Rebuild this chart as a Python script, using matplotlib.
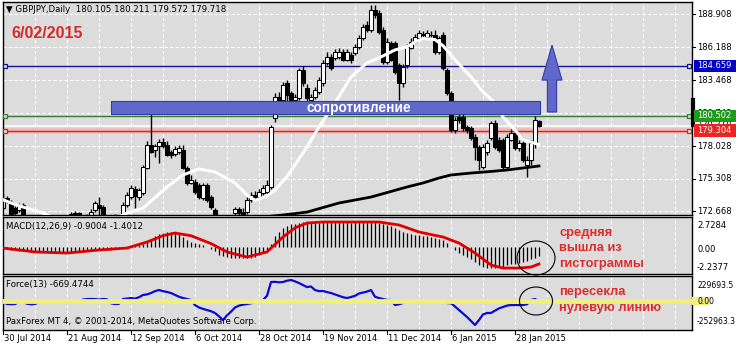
import numpy as np
import matplotlib
matplotlib.use('Agg')
import matplotlib.pyplot as plt
from matplotlib.patches import Rectangle, Ellipse, Polygon

plt.rcParams['font.family'] = ['DejaVu Sans']

############################################################################################
# GBPJPY daily bars, 30 Jul 2014 -> 6 Feb 2015
opens = [
    172.91, 173.74, 173.41, 172.90, 172.75, 173.16, 172.00, 171.60, 171.30, 171.80,
    171.40, 170.90, 171.20, 170.70, 170.90, 171.30, 171.70, 172.20, 172.40, 172.50,
    172.10, 171.90, 172.30, 172.75, 173.16, 173.00, 172.20, 171.90, 172.10, 172.00,
    172.20, 173.16, 173.82, 174.50, 173.82, 174.15, 176.21, 178.11, 177.70, 178.03,
    178.36, 178.11, 177.53, 177.37, 177.53, 177.70, 176.21, 174.98, 175.06, 174.81,
    173.74, 174.81, 173.82, 172.75, 171.80, 171.20, 170.60, 170.00, 172.50, 172.83,
    172.60, 172.58, 173.57, 173.99, 173.82, 174.15, 174.23, 174.65, 180.30, 182.07,
    181.83, 183.23, 182.40, 181.83, 181.99, 184.30, 182.82, 181.83, 182.07, 182.49,
    183.23, 184.88, 185.37, 185.29, 185.37, 185.79, 185.13, 185.54, 185.70, 186.20,
    186.94, 188.01, 187.60, 189.25, 189.00, 187.60, 184.96, 186.53, 186.50, 184.70,
    183.23, 184.71, 186.12, 186.61, 186.94, 187.19, 187.02, 187.20, 187.19, 185.79,
    187.19, 184.30, 182.40, 179.35, 180.42, 180.42, 179.60, 179.52, 178.77, 177.95,
    176.30, 177.53, 178.69, 179.93, 178.53, 178.53, 176.30, 178.53, 179.10, 177.87,
    178.28, 176.46, 176.87, 178.28, 180.105]
highs = [
    174.15, 173.90, 173.60, 173.10, 173.30, 173.30, 172.20, 171.90, 172.00, 172.00,
    171.60, 171.40, 171.30, 171.10, 171.50, 171.90, 172.30, 172.60, 172.70, 172.60,
    172.20, 172.40, 172.80, 173.50, 173.82, 173.20, 172.30, 172.30, 172.40, 172.30,
    173.40, 174.20, 174.80, 174.70, 174.60, 176.50, 178.40, 180.75, 178.20, 178.60,
    178.70, 178.40, 177.70, 178.00, 178.10, 178.10, 176.40, 175.60, 175.30, 175.00,
    175.00, 175.00, 174.00, 172.90, 172.00, 171.40, 170.90, 172.00, 173.00, 173.00,
    172.90, 173.80, 174.20, 174.30, 174.50, 174.80, 175.20, 179.80, 182.40, 182.50,
    183.30, 183.50, 182.60, 182.30, 184.50, 184.60, 183.10, 182.30, 182.90, 183.70,
    185.10, 185.80, 185.60, 186.00, 186.10, 186.00, 186.00, 185.80, 186.40, 187.20,
    188.10, 188.30, 189.66, 189.66, 189.20, 187.80, 186.90, 186.70, 186.70, 184.90,
    184.80, 186.40, 186.90, 187.30, 187.60, 187.50, 187.60, 187.50, 187.60, 187.10,
    187.40, 184.50, 182.60, 180.40, 181.00, 180.70, 179.80, 179.70, 179.00, 178.10,
    178.20, 178.50, 180.10, 180.20, 178.80, 178.70, 179.00, 179.40, 179.30, 178.50,
    178.50, 177.20, 178.50, 180.50, 180.211]
lows = [
    172.80, 173.30, 172.00, 172.30, 172.60, 171.80, 171.40, 171.10, 171.20, 171.20,
    170.60, 170.70, 170.40, 170.50, 170.80, 171.20, 171.50, 172.00, 172.20, 171.90,
    171.60, 171.80, 172.10, 172.60, 172.30, 172.00, 171.70, 171.80, 171.80, 171.80,
    172.00, 173.00, 173.70, 172.90, 173.60, 174.00, 176.10, 177.45, 177.12, 176.63,
    177.90, 177.20, 177.00, 177.20, 177.40, 176.10, 174.80, 174.90, 174.10, 173.70,
    173.60, 173.40, 172.80, 171.50, 171.00, 170.40, 169.50, 169.90, 172.30, 172.20,
    172.10, 172.40, 173.40, 173.60, 173.70, 174.00, 174.10, 174.50, 180.00, 180.90,
    181.00, 181.50, 180.80, 180.70, 181.80, 183.00, 181.50, 181.00, 181.90, 182.30,
    183.00, 184.70, 184.30, 185.10, 185.20, 185.00, 185.00, 184.90, 185.50, 186.00,
    186.80, 187.40, 187.40, 188.60, 187.30, 184.80, 184.80, 185.00, 184.00, 181.83,
    182.90, 184.50, 186.00, 186.50, 186.80, 187.00, 186.90, 187.00, 185.60, 185.60,
    184.30, 182.20, 179.20, 179.10, 179.90, 179.30, 179.10, 178.50, 176.87, 176.05,
    176.10, 177.30, 178.50, 177.80, 177.50, 176.10, 176.10, 178.40, 177.70, 177.60,
    176.70, 175.47, 176.50, 177.90, 179.572]
closes = [
    173.57, 173.41, 172.20, 172.50, 173.08, 172.00, 171.60, 171.30, 171.80, 171.40,
    170.90, 171.20, 170.70, 170.90, 171.30, 171.70, 172.20, 172.40, 172.50, 172.10,
    171.90, 172.20, 172.60, 173.33, 172.91, 172.20, 171.90, 172.10, 172.00, 172.20,
    173.16, 173.99, 174.56, 173.90, 174.40, 176.30, 178.11, 177.53, 178.03, 178.36,
    178.03, 177.29, 177.29, 177.78, 177.87, 176.21, 174.98, 175.22, 174.23, 173.82,
    174.81, 173.57, 173.00, 171.80, 171.20, 170.60, 170.00, 171.60, 172.83, 172.50,
    172.30, 173.57, 173.99, 173.74, 174.23, 174.56, 174.81, 179.60, 182.07, 181.83,
    183.06, 182.24, 181.83, 182.07, 184.30, 183.23, 181.99, 182.07, 182.65, 183.48,
    184.88, 185.37, 184.47, 185.79, 185.79, 185.13, 185.79, 185.13, 186.20, 186.94,
    187.85, 187.60, 189.25, 188.84, 187.44, 184.96, 186.61, 185.13, 184.14, 183.23,
    184.55, 186.20, 186.61, 187.02, 187.35, 187.25, 187.35, 187.15, 185.79, 186.94,
    184.47, 182.40, 179.35, 180.18, 180.18, 179.52, 179.35, 178.69, 177.95, 176.87,
    177.95, 178.28, 179.93, 177.95, 177.70, 176.30, 178.77, 179.10, 177.87, 178.28,
    176.87, 176.87, 178.28, 180.15, 179.718]

# moving averages on the price chart (bar index, price) read at a few points
white_ma_idx = [0, 2, 5, 10, 14, 20, 26, 31, 35, 41, 45, 49, 53, 58, 61, 63, 66, 68, 71, 76,
                79, 83, 87, 91, 94, 98, 101, 103, 105, 108, 110, 113, 117, 120, 123, 125, 128, 130, 134]
white_ma_val = [173.60, 173.33, 173.00, 172.50, 171.90, 171.60, 171.70, 172.50, 172.90, 174.65,
                175.64, 176.13, 175.89, 174.98, 173.99, 173.55, 173.90, 174.40, 175.50, 177.95,
                179.60, 181.58, 183.72, 184.88, 185.29, 185.95, 186.20, 186.60, 186.90, 186.80,
                186.30, 185.13, 183.72, 182.49, 181.58, 180.42, 179.35, 178.53, 178.15]
black_ma_idx = [50, 60, 70, 76, 84, 92, 101, 105, 109, 112, 117, 122, 126, 134]
black_ma_val = [171.70, 172.00, 172.34, 172.58, 173.33, 173.82, 174.65, 174.98, 175.39,
                175.64, 175.80, 175.93, 176.05, 176.38]

# horizontal levels drawn on the chart
level_blue, level_green, level_red, bid = 184.659, 180.502, 179.304, 179.718
grid_prices = [188.908, 186.188, 183.468, 180.748, 178.028, 175.308, 172.668]
grid_labels = ['188.908', '186.188', '183.468', '180.748', '178.028', '175.308', '172.668']

# MACD(12,26,9): histogram (main line) per bar and signal line
macd_main = [
    -0.15, -0.20, -0.25, -0.30, -0.35, -0.40, -0.45, -0.50, -0.50, -0.55,
    -0.55, -0.55, -0.55, -0.55, -0.55, -0.50, -0.50, -0.50, -0.45, -0.45,
    -0.45, -0.40, -0.35, -0.30, -0.30, -0.30, -0.30, -0.25, -0.20, -0.15,
    -0.10, 0.00, 0.10, 0.15, 0.20, 0.35, 0.60, 0.95, 1.20, 1.40,
    1.55, 1.60, 1.60, 1.55, 1.40, 1.15, 0.80, 0.60, 0.50, 0.35,
    0.25, 0.05, -0.20, -0.45, -0.80, -0.95, -1.05, -1.15, -1.20, -1.20,
    -1.20, -1.15, -1.10, -1.00, -0.85, -0.60, -0.35, 0.40, 1.20, 1.70,
    2.10, 2.35, 2.50, 2.55, 2.65, 2.70, 2.70, 2.65, 2.60, 2.62,
    2.68, 2.72, 2.70, 2.68, 2.70, 2.73, 2.70, 2.66, 2.68, 2.70,
    2.72, 2.73, 2.73, 2.70, 2.65, 2.55, 2.40, 2.25, 2.10, 1.85,
    1.70, 1.55, 1.40, 1.30, 1.30, 1.25, 1.20, 1.15, 1.05, 0.95,
    0.80, 0.50, 0.00, -0.30, -0.60, -0.85, -1.05, -1.30, -1.60, -1.90,
    -2.10, -2.20, -2.24, -2.20, -2.15, -2.10, -1.95, -1.85, -1.75, -1.65,
    -1.55, -1.45, -1.30, -1.10, -0.90]
macd_signal_idx = [0, 8, 16, 24, 31, 36, 40, 43, 47, 52, 56, 61, 66, 70, 73, 76, 80, 94,
                   99, 104, 110, 114, 118, 122, 125, 129, 132, 134]
macd_signal_val = [-0.08, -0.50, -0.62, -0.29, -0.08, 0.57, 1.25, 1.54, 1.25, 0.40, -0.50,
                   -1.05, -0.50, 1.11, 2.10, 2.62, 2.73, 2.73, 2.41, 1.65, 1.11, 0.46, -0.62,
                   -1.91, -2.24, -2.24, -2.13, -1.80]

# Force(13), thousands
force_k = [
    -5, -28, -30, -28, -5, 0, -25, -30, -28, -5,
    0, 2, 0, -3, 0, 3, 0, 2, 0, -2,
    20, 25, 26, 25, 20, 26, 22, -20, -28, -25,
    26, 30, 36, 30, 45, 69, 75, 90, 110, 122,
    110, 101, 90, 70, 50, 36, 25, 15, -40, -65,
    -80, -92, -105, -124, -160, -200, -150, -110, -65, -45,
    -35, -28, -20, -6, 0, 15, 60, 208, 210, 205,
    208, 222, 230, 215, 197, 175, 154, 160, 122, 110,
    112, 100, 90, 75, 60, 45, 36, 47, 60, 85,
    95, 105, 122, 50, 36, 25, 15, 15, -39, -30,
    -17, -6, 0, 0, 0, 0, 0, 0, 0, 0,
    0, -17, -20, -55, -92, -130, -167, -210, -253, -200,
    -140, -124, -124, -100, -75, -60, -45, -39, -39, -39,
    -39, -30, 15, 26, -0.67]

date_idx = [0, 16, 32, 48, 64, 80, 96, 112, 128]
date_labels = ['30 Jul 2014', '21 Aug 2014', '12 Sep 2014', '6 Oct 2014', '28 Oct 2014',
               '19 Nov 2014', '11 Dec 2014', '6 Jan 2015', '28 Jan 2015']

############################################################################################
W, H = 736, 347
def fpos(x, y):
    # pixel position (from top-left) -> figure fraction
    return x / W, 1 - y / H

fig = plt.figure(figsize=(W / 100, H / 100), dpi=100)
fig.patch.set_facecolor('white')
GRID = dict(color='white', lw=0.8, ls=(0, (3, 2)), zorder=0.5)

def panel(top, bottom):
    x0, y0 = fpos(3, bottom)
    x1, y1 = fpos(692, top)
    ax = fig.add_axes([x0, y0, x1 - x0, y1 - y0])
    ax.set_facecolor('#dcdcdc')
    ax.set_xlim(0, 172.25)
    ax.set_xticks([])
    ax.set_yticks([])
    for s in ax.spines.values():
        s.set_color('black')
        s.set_linewidth(1)
    for k in np.arange(8, 172, 8):
        ax.axvline(k, **GRID)
    return ax

ax_main = panel(2, 215)
ax_macd = panel(217, 274)
ax_force = panel(276, 330)

############################################################################################
# Price panel: levels, candles, MAs
ax_main.set_ylim(172.34, 189.90)
for p in grid_prices:
    ax_main.axhline(p, **GRID)

ax_main.axhline(bid, color='white', lw=1.1, zorder=1)
ax_main.axhline(level_red, color='#f2b8b8', lw=4, zorder=1.1)
for lvl, col in [(level_blue, '#14148c'), (level_green, '#2e7d32'), (level_red, '#e02020')]:
    ax_main.axhline(lvl, color=col, lw=1, zorder=1.2)
    ax_main.plot([0.6, 171.6], [lvl, lvl], ls='none', marker='s', ms=3.5, mfc='#dcdcdc',
                 mec=col, mew=0.9, zorder=4.5, clip_on=False)

idx = np.arange(len(closes))
o, hi, lo, c = map(np.array, (opens, highs, lows, closes))
ax_main.vlines(idx, lo, hi, color='black', lw=1, zorder=2)
body_colors = np.where(c >= o, 'white', 'black')
ax_main.bar(idx, np.maximum(np.abs(c - o), 0.04), bottom=np.minimum(o, c), width=0.78,
            color=body_colors, edgecolor='black', lw=0.75, zorder=2.1)

ax_main.plot(white_ma_idx, white_ma_val, color='white', lw=2.2, zorder=3, solid_capstyle='round')
ax_main.plot(black_ma_idx, black_ma_val, color='black', lw=2.0, zorder=3)

# resistance box and arrow
ax_main.add_patch(Rectangle((27, 180.67), 134.25 - 27, 181.74 - 180.67, fc='#6068cc',
                            ec='#343c9c', lw=0.8, zorder=5))
ax_main.text(89, 181.2, 'сопротивление', color='white', fontsize=9.8,
             fontweight='bold', family=['Liberation Sans'], ha='center', va='center', zorder=6)
ax_main.add_patch(Polygon([(136.1, 180.83), (138.4, 180.83), (138.4, 183.46), (139.75, 183.46),
                           (137.25, 186.35), (134.75, 183.46), (136.1, 183.46)],
                          closed=True, fc='#6068cc', ec='#343c9c', lw=0.8, zorder=5))

# right price scale
ytr = ax_main.get_yaxis_transform()
for p, lab in zip(grid_prices, grid_labels):
    ax_main.plot([1.0, 1.005], [p, p], color='black', lw=0.8, transform=ytr, clip_on=False)
    ax_main.text(1.0075, p, lab, transform=ytr, fontsize=6, va='center', ha='left', clip_on=False)
ax_main.text(1.0075, bid, '179.718', transform=ytr, fontsize=6, va='center', ha='left',
             clip_on=False, zorder=7)
ax_main.plot([1.0015, 1.0015], [179.76, 181.8], color='black', lw=3, transform=ytr,
             clip_on=False, zorder=8)
for lvl, col in [(level_blue, '#0000c8'), (level_green, '#1f9a1f'), (level_red, '#ec2424')]:
    ax_main.add_patch(Rectangle((1.003, lvl - 0.5), 0.062, 1.0, transform=ytr, fc=col, ec='none',
                                clip_on=False, zorder=9))
    ax_main.text(1.0075, lvl, f'{lvl:.3f}', transform=ytr, fontsize=6, color='white',
                 va='center', ha='left', clip_on=False, zorder=10)

############################################################################################
# MACD panel
ax_macd.set_ylim(-2.88, 3.27)
ax_macd.vlines(idx, 0, macd_main, color='black', lw=0.9, zorder=2)
ax_macd.plot(macd_signal_idx, macd_signal_val, color='#e00000', lw=2, zorder=3)

############################################################################################
# Force panel
ax_force.set_ylim(-306.6, 272.6)
ax_force.plot(idx, force_k, color='#0a0ad0', lw=1.6, zorder=2)
ax_force.axhline(0, color='#f0f07a', lw=3.5, zorder=3)

xtr = ax_force.get_xaxis_transform()
for k, lab in zip(date_idx, date_labels):
    ax_force.plot([k, k], [0, -0.07], color='black', lw=0.8, transform=xtr, clip_on=False)
    ax_force.text(k + 0.3, -0.165, lab, transform=xtr, fontsize=6, ha='left', va='center')

############################################################################################
# texts and marks in pixel positions
def ftext(x, y, s, **kw):
    fx, fy = fpos(x, y)
    fig.text(fx, fy, s, va='center', ha=kw.pop('ha', 'left'), **kw)

ftext(6, 10, '\u25bc GBPJPY,Daily  180.105 180.211 179.572 179.718', fontsize=6.2)
ftext(11, 33, '6/02/2015', fontsize=11.5, fontweight='bold', color='#d42b2b',
      family=['Liberation Sans'])
ftext(6, 226, 'MACD(12,26,9) -0.9004 -1.4012', fontsize=6.2)
ftext(6, 285, 'Force(13) -669.4744', fontsize=6.2)
ftext(6, 322, 'PaxForex MT 4, \u00a9 2001-2014, MetaQuotes Software Corp.', fontsize=6.2)

for y, lab in [(225, '2.7284'), (249, '0.00'), (267, '-2.2377')]:
    ftext(697, y, lab, fontsize=6)
fig.patches.append(Rectangle(fpos(692, 305), 18 / W, 8 / H, transform=fig.transFigure,
                             fc='#f0f07a', ec='none'))
for y, lab in [(285, '229693.5'), (301, '0.00'), (322, '-252963.3')]:
    ftext(697, y, lab, fontsize=5.5)

red_kw = dict(fontsize=9.3, fontweight='bold', color='#dc2d2d', family=['Liberation Sans'])
ftext(559, 233, 'средняя', **red_kw)
ftext(559, 248, 'вышла из', **red_kw)
ftext(559, 264, 'гистограммы', **red_kw)
ftext(559, 292, 'пересекла', **red_kw)
ftext(559, 308, 'нулевую линию', **red_kw)

for cx, cy, w, h in [(536, 258, 38, 34), (536, 301, 33, 28)]:
    fig.patches.append(Ellipse(fpos(cx, cy), w / W, h / H, transform=fig.transFigure,
                               fill=False, ec='black', lw=0.8))

fig.savefig('out.png', dpi=100, facecolor='white')
